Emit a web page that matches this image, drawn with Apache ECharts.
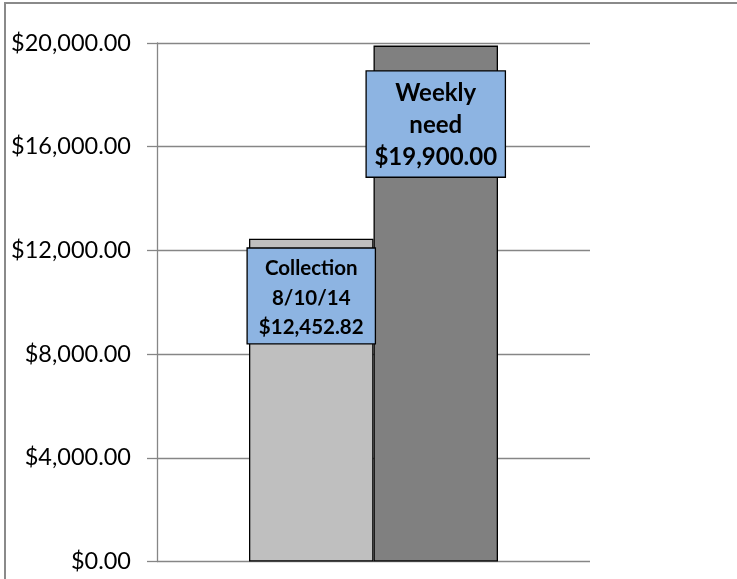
<!DOCTYPE html>
<html>
<head>
<meta charset="utf-8">
<script src="https://cdn.jsdelivr.net/npm/echarts@6/dist/echarts.min.js"></script>
<style>
html,body{margin:0;padding:0;background:#fff;}
#chart{width:737px;height:579px;}
</style>
</head>
<body>
<div id="chart"></div>
<script>
const categories = [''];
const seriesNames = ['Collection\n8/10/14', 'Weekly\nneed'];
const collectionValues = [12452.82];
const weeklyNeedValues = [19900.00];
const yTicks = [0, 4000, 8000, 12000, 16000, 20000];

function money(v) {
  return '$' + v.toLocaleString('en-US', {minimumFractionDigits: 2, maximumFractionDigits: 2});
}

const chart = echarts.init(document.getElementById('chart'));
const font = 'Lato, "Open Sans", sans-serif';

function labelStyle(name, fontSize, lineHeight, width, padding, distance) {
  return {
    show: true,
    position: 'insideTop',
    distance: distance,
    formatter: function (p) { return name + '\n' + money(p.value); },
    fontFamily: font,
    fontWeight: 'bold',
    fontSize: fontSize,
    lineHeight: lineHeight,
    color: '#000',
    backgroundColor: '#8DB4E2',
    borderColor: '#000',
    borderWidth: 1.3,
    width: width,
    align: 'center',
    padding: padding
  };
}

chart.setOption({
  animation: false,
  graphic: [{
    type: 'rect',
    shape: {x: 5, y: 3, width: 760, height: 600},
    style: {fill: 'none', stroke: '#8a8a8a', lineWidth: 2},
    silent: true
  }],
  grid: {left: 157, right: 147, top: 43, bottom: 17.5},
  xAxis: {
    type: 'category',
    data: categories,
    axisLine: {show: false},
    axisTick: {show: false},
    axisLabel: {show: false}
  },
  yAxis: {
    type: 'value',
    min: yTicks[0],
    max: yTicks[yTicks.length - 1],
    interval: yTicks[1] - yTicks[0],
    axisLine: {show: true, lineStyle: {color: '#868686', width: 1.3}},
    axisTick: {show: true, length: 10, lineStyle: {color: '#868686', width: 1.3}},
    splitLine: {show: true, lineStyle: {color: '#868686', width: 1.3}},
    axisLabel: {
      margin: 26,
      fontFamily: font,
      fontSize: 23.5,
      color: '#000',
      formatter: function (v) { return money(v); }
    }
  },
  series: [
    {
      name: seriesNames[0],
      type: 'bar',
      data: collectionValues,
      barWidth: 124.5,
      barGap: '0%',
      itemStyle: {color: '#BFBFBF', borderColor: '#000', borderWidth: 1.3},
      label: labelStyle(seriesNames[0], 20.5, 29.5, 127, [5, 0, 1, 0], 10)
    },
    {
      name: seriesNames[1],
      type: 'bar',
      data: weeklyNeedValues,
      barWidth: 124.5,
      barGap: '0%',
      itemStyle: {color: '#808080', borderColor: '#000', borderWidth: 1.3},
      label: labelStyle(seriesNames[1], 24, 32, 138, [6, 0, 3, 0], 26)
    }
  ]
});
</script>
</body>
</html>
